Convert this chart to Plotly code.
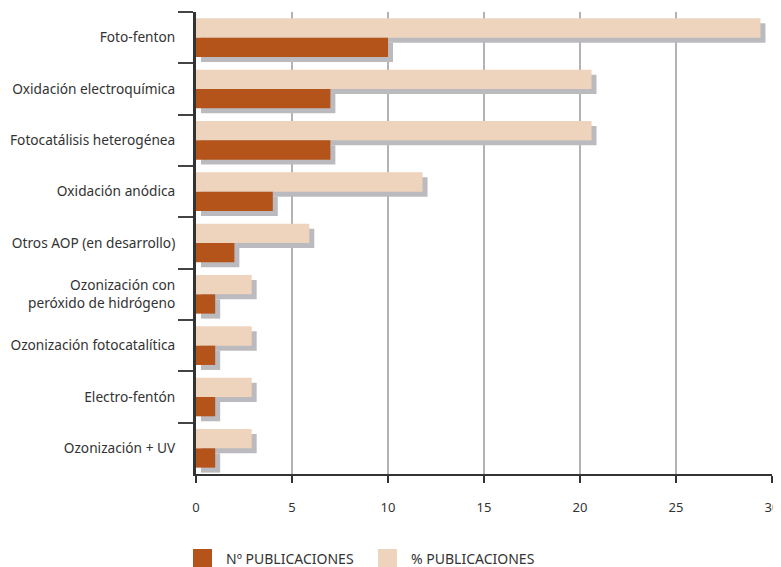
import plotly.graph_objects as go

categories = [
    "Foto-fenton",
    "Oxidación electroquímica",
    "Fotocatálisis heterogénea",
    "Oxidación anódica",
    "Otros AOP (en desarrollo)",
    "Ozonización con<br>peróxido de hidrógeno",
    "Ozonización fotocatalítica",
    "Electro-fentón",
    "Ozonización + UV",
]
n_publicaciones = [10, 7, 7, 4, 2, 1, 1, 1, 1]
pct_publicaciones = [29.4, 20.6, 20.6, 11.8, 5.9, 2.9, 2.9, 2.9, 2.9]
x_ticks = [0, 5, 10, 15, 20, 25, 30]

DARK = "#B5541A"
LIGHT = "#EED3BD"
SHADOW = "#BBBBBF"
FONT = "Noto Sans"

BW = 0.376      # bar thickness (category units)
SX = 0.26       # shadow shift along x (value units)
SY = 0.097      # shadow shift along y (category units)

fig = go.Figure()
# shadows
fig.add_trace(go.Bar(y=categories, x=pct_publicaciones, base=SX, orientation="h",
                     width=BW, offset=-BW + SY, marker=dict(color=SHADOW, line_width=0),
                     showlegend=False, hoverinfo="skip"))
fig.add_trace(go.Bar(y=categories, x=n_publicaciones, base=SX, orientation="h",
                     width=BW, offset=SY, marker=dict(color=SHADOW, line_width=0),
                     showlegend=False, hoverinfo="skip"))
# bars
fig.add_trace(go.Bar(y=categories, x=pct_publicaciones, orientation="h", name="% PUBLICACIONES",
                     width=BW, offset=-BW, marker=dict(color=LIGHT, line_width=0)))
fig.add_trace(go.Bar(y=categories, x=n_publicaciones, orientation="h", name="Nº PUBLICACIONES",
                     width=BW, offset=0, marker=dict(color=DARK, line_width=0)))

# custom legend (positions relative to plot area: x 196..772 px, y 12..474 px)
def legend_item(px_x, color, text):
    x0 = (px_x - 196) / 576
    x1 = (px_x + 19 - 196) / 576
    fig.add_shape(type="rect", xref="paper", yref="paper", x0=x0, x1=x1,
                  y0=(474 - 570) / 462, y1=(474 - 549) / 462,
                  fillcolor=color, line_width=0)
    fig.add_annotation(xref="paper", yref="paper", x=(px_x + 31 - 196) / 576,
                       y=(474 - 558) / 462, xanchor="left", yanchor="middle",
                       text=text, showarrow=False,
                       font=dict(family=FONT, size=14, color="#333333"))

legend_item(193, DARK, "Nº PUBLICACIONES")
legend_item(378, LIGHT, "% PUBLICACIONES")

# the page body adds an 8px offset, so the figure is sized/margined to compensate
fig.update_layout(
    width=781, height=559,
    margin=dict(l=188, r=17, t=4, b=93),
    barmode="overlay",
    showlegend=False,
    plot_bgcolor="white", paper_bgcolor="white",
    font=dict(family=FONT, size=13.7, color="#333333"),
    xaxis=dict(range=[0, 30], tickvals=x_ticks, ticktext=[str(v) for v in x_ticks],
               showgrid=True, gridcolor="#B3B3B3", gridwidth=2,
               showline=True, linecolor="#333333", linewidth=2,
               ticks="outside", ticklen=7, tickwidth=1.5, tickcolor="#333333",
               ticklabelstandoff=13, zeroline=False, automargin=False,
               tickfont=dict(size=13, color="#333333")),
    yaxis=dict(range=[8.5, -0.5], tickson="boundaries", ticks="outside", ticklen=15,
               tickwidth=1.5, tickcolor="#444444",
               showline=True, linecolor="#333333", linewidth=3,
               showgrid=False, zeroline=False, ticklabelstandoff=15, automargin=False,
               tickfont=dict(size=13.7, color="#333333")),
)

fig.write_html("out.html")
